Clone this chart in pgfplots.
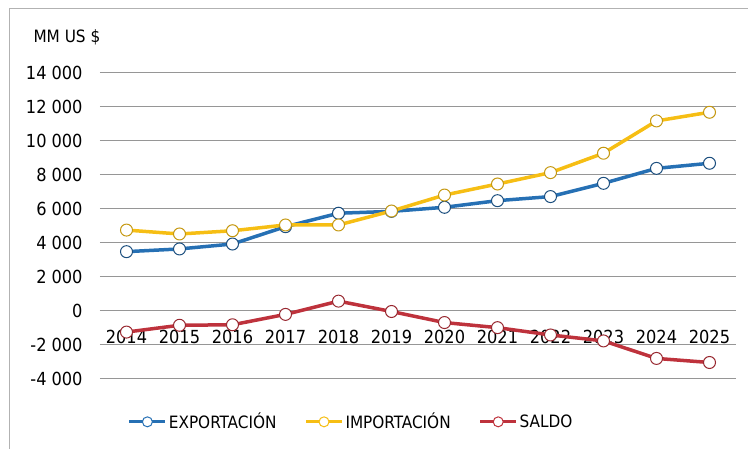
\documentclass[border=0pt]{standalone}
\usepackage{pgfplots}
\pgfplotsset{compat=1.18}
\usepackage{fontspec}
\setmainfont{DejaVu Sans Condensed}
\definecolor{expo}{RGB}{38,112,180}
\definecolor{impo}{RGB}{246,190,20}
\definecolor{sald}{RGB}{190,50,60}
\definecolor{grid}{RGB}{150,150,150}
\begin{document}
\begin{tikzpicture}[x=1pt,y=1pt]
\path[use as bounding box] (0,0) rectangle (748,449);
\draw[color=black!30, line width=1pt] (9,0) -- (9,440) -- (748,440);
\node[anchor=west, font=\fontsize{17}{20}\selectfont] at (30,412) {MM US \$};
\begin{axis}[
  at={(100pt,70pt)}, anchor=south west,
  scale only axis, width=636pt, height=306pt,
  xmin=-0.5, xmax=11.5, ymin=-4000, ymax=14000,
  xtick={0,...,11},
  xticklabels={2014,2015,2016,2017,2018,2019,2020,2021,2022,2023,2024,2025},
  ytick={-4000,-2000,...,14000},
  scaled y ticks=false,
  /pgf/number format/fixed, /pgf/number format/precision=0,
  /pgf/number format/1000 sep={\hspace{5pt}},
  /pgf/number format/assume math mode=true,
  axis x line*=middle, axis y line*=left,
  x axis line style={draw=grid, line width=1pt},
  y axis line style={draw=none},
  major tick length=0pt,
  ymajorgrids, grid style={draw=grid, line width=1pt},
  tick label style={font=\fontsize{18}{20}\selectfont},
  yticklabel shift=14pt,
  xticklabel style={yshift=-16pt},
  every axis plot/.append style={line width=3.5pt, mark=*, mark size=6pt},
  legend columns=3,
  legend style={draw=none, at={(0.395,-0.14)}, anchor=center,
    font=\fontsize{17}{20}\selectfont, column sep=0pt,
    /tikz/every even column/.append style={column sep=26pt}},
  legend image code/.code={
    \draw[#1, mark=none, line width=3pt] (0pt,0pt) -- (36pt,0pt);
    \draw[#1, line width=1pt, fill=white, mark=none] (18pt,0pt) circle (5pt);
  },
]
\addplot[color=expo, mark options={draw=expo!70!black, fill=white, line width=1pt}] coordinates {
(0,3490) (1,3650) (2,3940) (3,4960) (4,5750) (5,5860) (6,6100) (7,6490) (8,6730) (9,7510) (10,8390) (11,8690)};
\addplot[color=impo, mark options={draw=impo!80!black, fill=white, line width=1pt}] coordinates {
(0,4760) (1,4530) (2,4720) (3,5060) (4,5060) (5,5880) (6,6820) (7,7470) (8,8140) (9,9280) (10,11180) (11,11690)};
\addplot[color=sald, mark options={draw=sald!80!black, fill=white, line width=1pt}] coordinates {
(0,-1240) (1,-840) (2,-810) (3,-200) (4,580) (5,-30) (6,-680) (7,-980) (8,-1410) (9,-1760) (10,-2790) (11,-3030)};
\legend{EXPORTACIÓN, IMPORTACIÓN, SALDO}
\end{axis}
\end{tikzpicture}
\end{document}
